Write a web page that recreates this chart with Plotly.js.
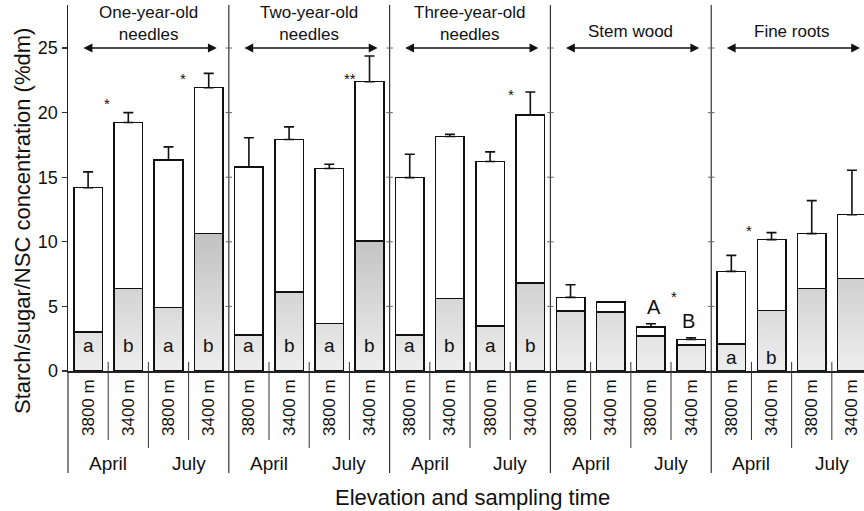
<!DOCTYPE html>
<html>
<head>
<meta charset="utf-8">
<script src="https://cdn.plot.ly/plotly-3.0.1.min.js"></script>
<style>html,body{margin:0;padding:0;background:#fff;overflow:hidden;}#chart{width:864px;height:511px;}</style>
</head>
<body>
<div id="chart"></div>
<script>
// ---- data ----
const tissues = ['One-year-old<br>needles', 'Two-year-old<br>needles', 'Three-year-old<br>needles', 'Stem wood', 'Fine roots'];
const elevations = ['3800 m', '3400 m', '3800 m', '3400 m'];
const months = ['April', 'July'];
// starch (grey part) and total NSC (bar top), %dm
const starch = [3.0, 6.37, 4.92, 10.63, 2.8, 6.11, 3.66, 10.06, 2.8, 5.6, 3.47, 6.81, 4.64, 4.56, 2.7, 2.03, 2.1, 4.67, 6.37, 7.17];
const nsc    = [14.19, 19.24, 16.32, 21.93, 15.8, 17.92, 15.67, 22.39, 14.97, 18.15, 16.22, 19.81, 5.7, 5.36, 3.4, 2.44, 7.71, 10.17, 10.63, 12.1];
// standard errors of NSC (upper bars)
const nscSE  = [1.22, 0.76, 1.03, 1.11, 2.25, 0.98, 0.33, 1.99, 1.81, 0.18, 0.74, 1.79, 0.98, null, 0.26, 0.13, 1.24, 0.54, 2.56, 3.44];
// letters inside bars (starch significance)
const starchLetters = ['a','b','a','b','a','b','a','b','a','b','a','b','','','','','a','b','',''];
// asterisks (NSC significance): position index, text, value level
const starIdx  = [0.47, 2.36, 6.52, 10.52, 14.58, 16.44];
const starText = ['*', '*', '**', '*', '*', '*'];
const starVal  = [20.9, 22.9, 22.9, 21.6, 6.0, 11.1];
// sugar letters in stem wood
const capIdx  = [14.08, 14.93];
const capText = ['A', 'B'];
const capVal  = [4.95, 3.84];

// ---- derived ----
const xs = nsc.map((_, i) => i);
const sugar = nsc.map((v, i) => +(v - starch[i]).toFixed(3));
const tickText = xs.map(i => elevations[i % 4]);

const FONT = '"Liberation Sans", Arial, Helvetica, sans-serif';
const INK = '#111';

const traces = [
  {type: 'bar', x: xs, y: starch, width: 0.71, name: 'Starch',
   marker: {color: '#d6d6d5', line: {color: INK, width: 1.5}}},
  {type: 'bar', x: xs, y: sugar, width: 0.71, name: 'Sugar',
   marker: {color: '#ffffff', line: {color: INK, width: 1.5}}},
  {type: 'scatter', mode: 'markers', x: xs, y: nsc, name: 'NSC',
   marker: {size: 1, color: 'rgba(0,0,0,0)'},
   error_y: {type: 'data', symmetric: false,
             array: nscSE.map(v => v == null ? NaN : v),
             arrayminus: nscSE.map(() => 0),
             color: INK, thickness: 1.6, width: 5}}
];

// ---- annotations & shapes ----
const ann = [];
const shapes = [];
const yPaper = px => (371 - px) / 366;   // pixel row -> paper fraction of the plot frame

tissues.forEach((t, g) => {
  const c = 4 * g + 1.5;
  const twoLines = t.indexOf('<br>') >= 0;
  ann.push({xref: 'x', yref: 'paper', x: c, y: yPaper(twoLines ? 23.5 : 32), text: t, showarrow: false,
            font: {family: FONT, size: 17, color: INK}, yanchor: 'middle', align: 'center'});
  // double-headed arrow
  ann.push({xref: 'x', yref: 'y', axref: 'x', ayref: 'y', x: 4 * g + 3.2, y: 25, ax: 4 * g - 0.15, ay: 25,
            text: '', showarrow: true, arrowhead: 2, startarrowhead: 2, arrowside: 'end+start',
            arrowsize: 1.1, startarrowsize: 1.1, arrowwidth: 1.6, arrowcolor: INK, standoff: 0, startstandoff: 0});
  // month labels
  months.forEach((m, k) => {
    ann.push({xref: 'x', yref: 'paper', x: 4 * g + 2 * k + 0.5, y: yPaper(463), text: m, showarrow: false,
              font: {family: FONT, size: 19, color: INK}, yanchor: 'middle'});
  });
  // separators within group
  [[0.5, 440], [1.5, 448], [2.5, 440]].forEach(([o, bot]) => {
    shapes.push({type: 'line', xref: 'x', yref: 'paper', x0: 4 * g + o, x1: 4 * g + o,
                 y0: yPaper(362), y1: yPaper(bot), line: {color: '#333', width: 1}});
  });
  // group dividers (full height)
  if (g > 0) {
    const xd = 4 * g - 0.5;
    shapes.push({type: 'line', xref: 'x', yref: 'paper', x0: xd, x1: xd, y0: 1, y1: yPaper(473),
                 line: {color: '#333', width: 1.2}});
    [5, 10, 15, 20, 25].forEach(v => {
      shapes.push({type: 'line', xref: 'x', yref: 'y', x0: xd - 0.08, x1: xd + 0.08, y0: v, y1: v,
                   line: {color: '#666', width: 1}});
    });
  }
});
// y axis line extension below the axis
shapes.push({type: 'line', xref: 'paper', yref: 'paper', x0: 0, x1: 0, y0: 0, y1: yPaper(473),
             line: {color: '#333', width: 1.2}});

starchLetters.forEach((l, i) => {
  if (!l) return;
  ann.push({xref: 'x', yref: 'y', x: i, y: i >= 16 ? 1.05 : 2.0, text: l, showarrow: false,
            font: {family: FONT, size: 19, color: INK}, yanchor: 'middle'});
});
starIdx.forEach((x, k) => {
  ann.push({xref: 'x', yref: 'y', x: x, y: starVal[k], text: starText[k], showarrow: false,
            font: {family: FONT, size: 15, color: INK}, yanchor: 'middle', yshift: -3});
});
capIdx.forEach((x, k) => {
  ann.push({xref: 'x', yref: 'y', x: x, y: capVal[k], text: capText[k], showarrow: false,
            font: {family: FONT, size: 20, color: INK}, yanchor: 'middle'});
});
// axis titles
ann.push({xref: 'paper', yref: 'paper', x: (22 - 68) / 796, y: yPaper(221), text: 'Starch/sugar/NSC concentration (%dm)',
          textangle: -90, showarrow: false, font: {family: FONT, size: 22, color: INK}, xanchor: 'center', yanchor: 'middle'});
ann.push({xref: 'paper', yref: 'paper', x: (472 - 68) / 796, y: yPaper(497), text: 'Elevation and sampling time',
          showarrow: false, font: {family: FONT, size: 22, color: INK}, xanchor: 'center', yanchor: 'middle'});

const layout = {
  width: 864, height: 511,
  margin: {l: 68, r: 0, t: 5, b: 140, pad: 0},
  paper_bgcolor: '#fff', plot_bgcolor: '#fff',
  barmode: 'stack', showlegend: false, hovermode: false,
  font: {family: FONT, color: INK},
  xaxis: {range: [-0.5, 19.3], tickvals: xs, ticktext: tickText, tickangle: -90,
          tickfont: {family: FONT, size: 17, color: INK}, ticks: '', showgrid: false, zeroline: false,
          showline: true, linecolor: '#222', linewidth: 1.5, fixedrange: true},
  yaxis: {range: [0, 28.33], tickvals: [0, 5, 10, 15, 20, 25], ticks: 'outside', ticklen: 5, tickwidth: 1.2,
          tickcolor: '#333', tickfont: {family: FONT, size: 18, color: INK}, showgrid: false, zeroline: false,
          showline: true, linecolor: '#222', linewidth: 1.5, fixedrange: true},
  annotations: ann, shapes: shapes
};

Plotly.newPlot('chart', traces, layout, {displayModeBar: false, staticPlot: true}).then(gd => {
  // vertical grey gradient for starch segments (darker upward)
  const svg = gd.querySelector('svg.main-svg');
  const ya = gd._fullLayout.yaxis;
  const NS = 'http://www.w3.org/2000/svg';
  const defs = document.createElementNS(NS, 'defs');
  const lg = document.createElementNS(NS, 'linearGradient');
  lg.setAttribute('id', 'starchGrad');
  lg.setAttribute('gradientUnits', 'userSpaceOnUse');
  lg.setAttribute('x1', 0); lg.setAttribute('x2', 0);
  lg.setAttribute('y1', ya.l2p(11)); lg.setAttribute('y2', ya.l2p(0));
  [['0', '#c0c0c0'], ['1', '#eeeeee']].forEach(([o, c]) => {
    const s = document.createElementNS(NS, 'stop');
    s.setAttribute('offset', o); s.setAttribute('stop-color', c);
    lg.appendChild(s);
  });
  defs.appendChild(lg);
  svg.insertBefore(defs, svg.firstChild);
  const barTraces = gd.querySelectorAll('.barlayer .trace');
  if (barTraces.length) {
    barTraces[0].querySelectorAll('.point path').forEach(p => { p.style.fill = 'url(#starchGrad)'; });
  }
});
</script>
</body>
</html>
